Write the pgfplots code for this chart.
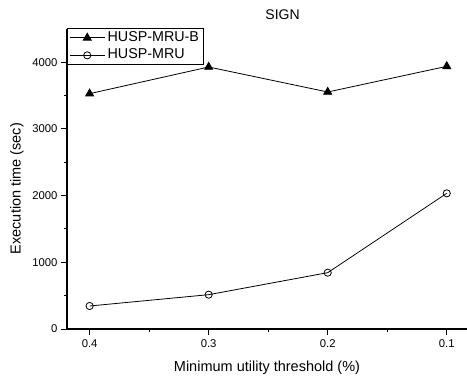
\documentclass[border=0pt]{standalone}
\usepackage{fontspec}
\setmainfont{Liberation Sans}
\usepackage{pgfplots}
\pgfplotsset{compat=1.18}
\begin{document}
\begin{tikzpicture}
\useasboundingbox (-67bp,-49bp) rectangle (400bp,329bp);
\begin{axis}[
  at={(0bp,0bp)}, anchor=south west,
  scale only axis, width=400bp, height=300bp,
  xmin=-0.19, xmax=3.17, ymin=0, ymax=4500,
  axis lines*=left,
  axis line style={line width=1.1bp},
  every tick/.style={line width=1bp, black},
  tick align=outside,
  major tick length=6bp, minor tick length=3bp,
  xtick={0,1,2,3}, xticklabels={0.4,0.3,0.2,0.1},
  minor x tick num=1,
  ytick={0,1000,2000,3000,4000},
  minor y tick num=1,
  /pgf/number format/assume math mode=true,
  scaled y ticks=false,
  yticklabel={\pgfmathprintnumber[fixed,precision=0,1000 sep={}]{\tick}},
  tick label style={font=\fontsize{11.3bp}{13bp}\selectfont},
  xticklabel style={yshift=-1bp},
  every axis x label/.style={at={(axis description cs:0.5,0)}, anchor=base, yshift=-42bp},
  every axis y label/.style={at={(axis description cs:0,0.468)}, xshift=-46.3bp, rotate=90, anchor=base},
  every axis title/.style={at={(axis description cs:0.539,1)}, anchor=base, yshift=9.7bp},
  label style={font=\fontsize{14.5bp}{16bp}\selectfont},
  title style={font=\fontsize{14bp}{16bp}\selectfont},
  xlabel={Minimum utility threshold (\%)},
  ylabel={Execution time (sec)},
  title={SIGN},
  legend style={at={(axis description cs:0,1)}, anchor=north west, yshift=1bp,
    draw=black, line width=0.7bp, inner xsep=2bp, inner ysep=1bp, row sep=0.5bp,
    nodes={inner xsep=2.5bp, inner ysep=1.5bp, text height=10.5bp, text depth=3.5bp},
    font=\fontsize{14.3bp}{16bp}\selectfont},
  legend cell align=left,
  legend image code/.code={\draw[mark repeat=2,mark phase=2,#1] plot coordinates {(0bp,0bp) (17.5bp,0bp) (35bp,0bp)};},
]
\addplot[black, line width=0.8bp, mark=triangle*, mark size=4.6bp, mark options={solid, fill=black}]
  coordinates {(0,3530) (1,3930) (2,3555) (3,3940)};
\addlegendentry{HUSP-MRU-B}
\addplot[black, line width=0.8bp, mark=o, mark size=3.6bp, mark options={solid, fill=white, line width=0.8bp}]
  coordinates {(0,345) (1,515) (2,845) (3,2035)};
\addlegendentry{HUSP-MRU}
\end{axis}
\end{tikzpicture}
\end{document}
